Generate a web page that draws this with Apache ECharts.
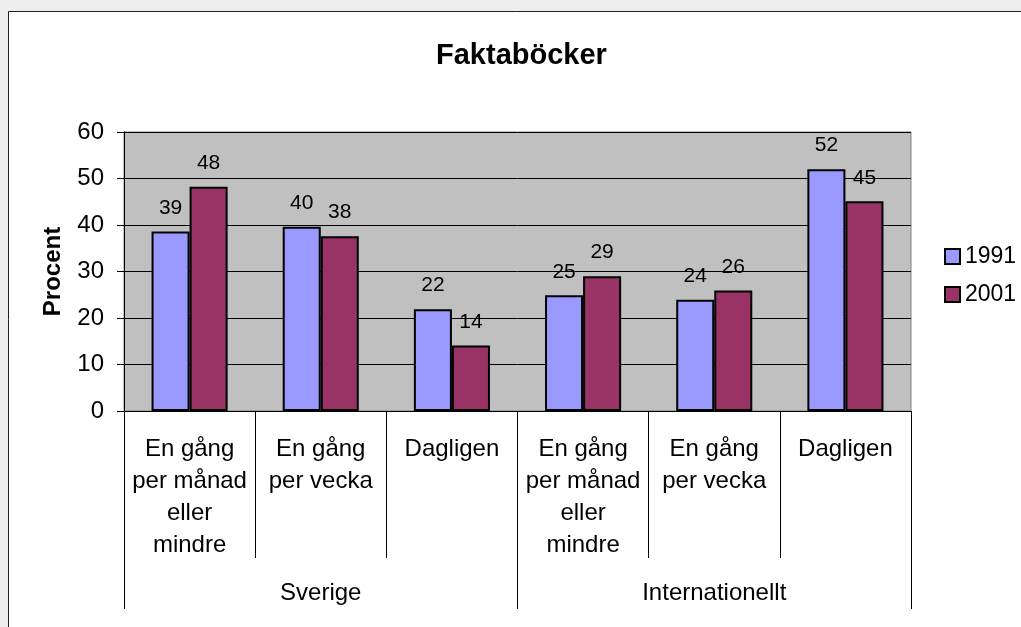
<!DOCTYPE html>
<html>
<head>
<meta charset="utf-8">
<script src="https://cdn.jsdelivr.net/npm/echarts@6/dist/echarts.min.js"></script>
<style>
html,body{margin:0;padding:0;background:#eeeeee;}
#chart{width:1021px;height:627px;}
</style>
</head>
<body>
<div id="chart"></div>
<script>
var subCategories = ['En gång\nper månad\neller\nmindre', 'En gång\nper vecka', 'Dagligen', 'En gång\nper månad\neller\nmindre', 'En gång\nper vecka', 'Dagligen'];
var groups = ['Sverige', 'Internationellt'];
var values1991 = [38.6, 39.6, 21.9, 24.9, 23.9, 52.0];
var values2001 = [48.2, 37.6, 14.1, 29.0, 25.9, 45.1];
var yTicks = [0, 10, 20, 30, 40, 50, 60];

var FONT = '"Liberation Sans", Arial, sans-serif';
var chart = echarts.init(document.getElementById('chart'));
var labelOpt = {
  show: true, position: 'top', distance: 13,
  fontSize: 21, color: '#000', fontFamily: FONT,
  formatter: function (p) { return Math.round(p.value); }
};
chart.setOption({
  backgroundColor: '#eeeeee',
  animation: false,
  graphic: [{
    type: 'rect', z: -10, silent: true,
    shape: { x: 8.5, y: 11.5, width: 1100, height: 700 },
    style: { fill: '#ffffff', stroke: '#222', lineWidth: 1 }
  }],
  title: {
    text: 'Faktaböcker', left: 431, top: 36,
    textStyle: { fontSize: 29, fontWeight: 'bold', color: '#000', fontFamily: FONT }
  },
  legend: {
    orient: 'vertical', left: 939, top: 240,
    itemWidth: 15, itemHeight: 15, itemGap: 15,
    icon: 'rect',
    itemStyle: { borderColor: '#000', borderWidth: 2 },
    textStyle: { fontSize: 23, color: '#000', fontFamily: FONT },
    data: ['1991', '2001']
  },
  grid: {
    left: 124, top: 132, right: 110, bottom: 216,
    show: true, backgroundColor: '#c0c0c0', borderColor: '#808080', borderWidth: 1
  },
  xAxis: [{
    type: 'category', position: 'bottom', data: subCategories,
    axisLine: { show: true, lineStyle: { color: '#000', width: 1 } },
    axisTick: { show: true, interval: 0, length: 147, lineStyle: { color: '#000', width: 1 } },
    axisLabel: { interval: 0, margin: 22, fontSize: 24, lineHeight: 32, color: '#000', fontFamily: FONT, align: 'center' },
    splitLine: { show: false }
  }, {
    type: 'category', position: 'bottom', data: groups,
    axisLine: { show: false },
    axisTick: { show: true, interval: 0, length: 198, lineStyle: { color: '#000', width: 1 } },
    axisLabel: { interval: 0, margin: 170, fontSize: 24, lineHeight: 24, color: '#000', fontFamily: FONT },
    splitLine: { show: false }
  }],
  yAxis: {
    type: 'value', min: yTicks[0], max: yTicks[yTicks.length - 1], interval: 10,
    name: 'Procent', nameLocation: 'middle', nameGap: 59, nameRotate: 90,
    nameTextStyle: { fontSize: 24, fontWeight: 'bold', color: '#000', fontFamily: FONT },
    axisLine: { show: true, lineStyle: { color: '#000', width: 1 } },
    axisTick: { show: true, length: 7, lineStyle: { color: '#000' } },
    axisLabel: { margin: 20, fontSize: 24, color: '#000', fontFamily: FONT },
    splitLine: { show: true, lineStyle: { color: '#000', width: 1 } }
  },
  series: [{
    name: '1991', type: 'bar', xAxisIndex: 0, data: values1991,
    barWidth: '29%', barGap: '0%',
    itemStyle: { color: '#9999ff', borderColor: '#000', borderWidth: 2 },
    label: labelOpt
  }, {
    name: '2001', type: 'bar', xAxisIndex: 0, data: values2001,
    barWidth: '29%', barGap: '0%',
    itemStyle: { color: '#993366', borderColor: '#000', borderWidth: 2 },
    label: labelOpt
  }]
});
</script>
</body>
</html>
